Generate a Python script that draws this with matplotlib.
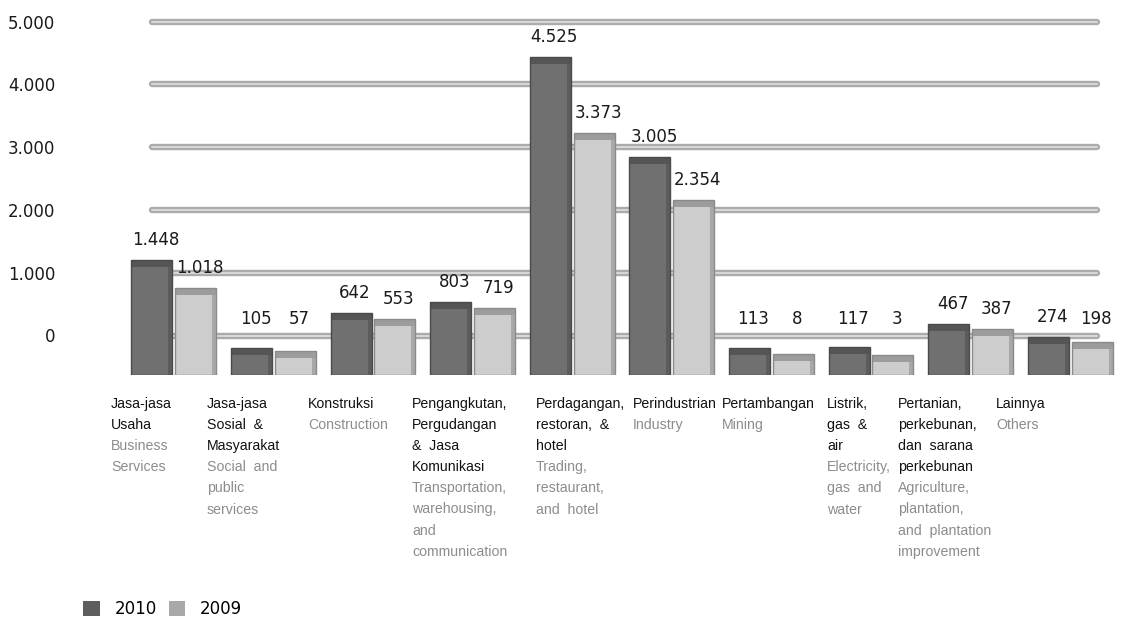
import matplotlib
matplotlib.use("Agg")
import matplotlib.pyplot as plt
from matplotlib.patches import Rectangle, Patch
import numpy as np

# ---------------- data ----------------
cat_id = ["Jasa-jasa\nUsaha", "Jasa-jasa\nSosial  &\nMasyarakat", "Konstruksi",
          "Pengangkutan,\nPergudangan\n&  Jasa\nKomunikasi",
          "Perdagangan,\nrestoran,  &\nhotel", "Perindustrian", "Pertambangan",
          "Listrik,\ngas  &\nair", "Pertanian,\nperkebunan,\ndan  sarana\nperkebunan",
          "Lainnya"]
cat_en = ["Business\nServices", "Social  and\npublic\nservices", "Construction",
          "Transportation,\nwarehousing,\nand\ncommunication",
          "Trading,\nrestaurant,\nand  hotel", "Industry", "Mining",
          "Electricity,\ngas  and\nwater",
          "Agriculture,\nplantation,\nand  plantation\nimprovement", "Others"]
values_2010 = [1448, 105, 642, 803, 4525, 3005, 113, 117, 467, 274]
values_2009 = [1018, 57, 553, 719, 3373, 2354, 8, 3, 387, 198]
series_names = ["2010", "2009"]
y_ticks = [0, 1000, 2000, 3000, 4000, 5000]
y_tick_labels = ["0", "1.000", "2.000", "3.000", "4.000", "5.000"]

# ---------------- layout helpers ----------------
W, H = 1134, 621
fig = plt.figure(figsize=(W / 100, H / 100), dpi=100)
fig.patch.set_facecolor("white")


def fx(px):
    return px / W


def fy(py):
    return 1 - py / H


# ---------------- background grid axes ----------------
g_left, g_top, g_bot = 62, 0, 375
ax_g = fig.add_axes([fx(g_left), fy(g_bot), (W - g_left) / W, (g_bot - g_top) / H])
g_scale = 0.06276          # px per unit
g_zero = 335.5             # px (from top) of value 0
ax_g.set_ylim(-(g_bot - g_zero) / g_scale, (g_zero - g_top) / g_scale)
ax_g.set_xlim(0, 1)
for s in ax_g.spines.values():
    s.set_visible(False)
ax_g.set_xticks([])
ax_g.set_yticks(y_ticks)
ax_g.set_yticklabels(y_tick_labels, fontsize=12, color="#1a1a1a", family="DejaVu Sans")
ax_g.tick_params(axis="y", length=0, pad=5)
x0 = (152 - g_left) / (W - g_left)
x1 = (1097 - g_left) / (W - g_left)
for t in y_ticks:
    ax_g.axhline(t, xmin=x0, xmax=x1, color="#ababab", lw=4.6, solid_capstyle="round", zorder=1)
    ax_g.axhline(t, xmin=x0, xmax=x1, color="#d8d8d8", lw=1.4, solid_capstyle="round", zorder=2)

# ---------------- bars axes ----------------
b_left, b_right, b_top, b_bot = 124, 1120, 20, 375
ax_b = fig.add_axes([fx(b_left), fy(b_bot), (b_right - b_left) / W, (b_bot - b_top) / H])
ax_b.patch.set_alpha(0)
b_scale = 0.0659
b_zero = 355
base = (b_bot - b_zero) / b_scale          # 3D plinth depth (in value units)
ax_b.set_ylim(-base, (b_zero - b_top) / b_scale)
ax_b.set_xlim(-0.5, len(cat_id) - 0.5)
ax_b.axis("off")

x = np.arange(len(cat_id))
bw = 0.41
off = 0.22
styles = [
    dict(front="#707070", edge="#4a4a4a", cap="#555555", side="#5c5c5c"),
    dict(front="#cdcdcd", edge="#8a8a8a", cap="#9c9c9c", side="#a8a8a8"),
]
cap_units = 7 / b_scale
side_units = 4 / 99.6

for k, (vals, st) in enumerate(zip([values_2010, values_2009], styles)):
    xs = x + (-off if k == 0 else off)
    # plinth (3D depth below zero)
    ax_b.bar(xs, [base] * len(xs), bw, bottom=-base, color=st["front"], edgecolor="none", zorder=3)
    bars = ax_b.bar(xs, vals, bw, color=st["front"], edgecolor="none", zorder=3,
                    label=series_names[k])
    for p in bars:
        bx, bwid, bh = p.get_x(), p.get_width(), p.get_height()
        ax_b.add_patch(Rectangle((bx, -base), bwid, bh + base, fill=False,
                                 edgecolor=st["edge"], lw=1.0, zorder=5))
        ax_b.add_patch(Rectangle((bx + bwid - side_units, -base), side_units, bh + base,
                                 color=st["side"], lw=0, zorder=4))
        ax_b.add_patch(Rectangle((bx, bh - cap_units), bwid, cap_units,
                                 color=st["cap"], lw=0, zorder=4))
    for xi, v in zip(xs, vals):
        ax_b.annotate(f"{v:,}".replace(",", "."), (xi, max(v, 250)), xytext=(4, 20),
                      textcoords="offset pixels", ha="center", va="center",
                      fontsize=12, color="#1a1a1a", family="DejaVu Sans", zorder=6)

# ---------------- category labels ----------------
label_x = [111, 207, 308, 412, 536, 633, 722, 827, 898, 996]
line_h = 21.1
y_first = 404
for lx, cid, cen in zip(label_x, cat_id, cat_en):
    n = 0
    for line in cid.split("\n"):
        fig.text(fx(lx), fy(y_first + n * line_h), line, ha="left", va="center",
                 fontsize=10.2, color="#111111", family="Liberation Sans")
        n += 1
    for line in cen.split("\n"):
        fig.text(fx(lx), fy(y_first + n * line_h), line, ha="left", va="center",
                 fontsize=10.2, color="#8c8c8c", family="Liberation Sans")
        n += 1

# ---------------- legend ----------------
handles = [Patch(facecolor="#5e5e5e", edgecolor="none", label=series_names[0]),
           Patch(facecolor="#a9a9a9", edgecolor="none", label=series_names[1])]
fig.legend(handles=handles, loc="center left", bbox_to_anchor=(fx(68), fy(609)),
           ncol=2, frameon=False, handlelength=1.0, handleheight=1.0,
           handletextpad=0.9, columnspacing=0.7, prop={"family": "DejaVu Sans", "size": 12})

fig.savefig("out.png", dpi=100, facecolor="white")
